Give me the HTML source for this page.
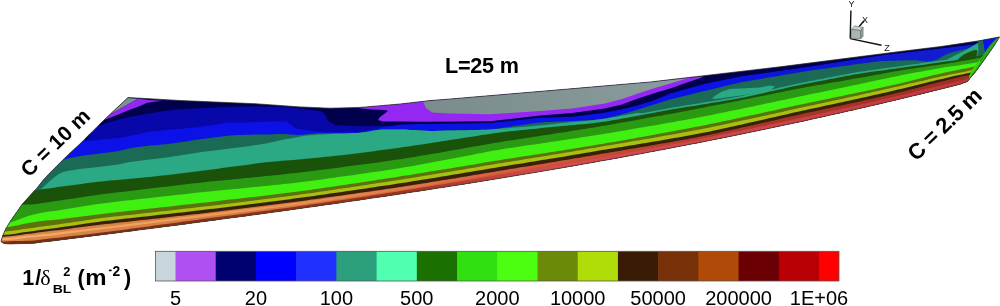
<!DOCTYPE html>
<html><head><meta charset="utf-8"><style>
html,body{margin:0;padding:0;background:#fff;width:1000px;height:306px;overflow:hidden}
svg{display:block;filter:blur(0.35px);font-family:"Liberation Sans",sans-serif}
.b{font-weight:bold}
</style></head><body>
<svg width="1000" height="306" viewBox="0 0 1000 306">
<defs>
<clipPath id="blade"><polygon points="128.0,97.5 180.0,100.5 255.0,103.7 300.0,106.9 330.0,108.2 360.0,107.4 400.0,104.0 430.0,100.6 450.0,99.0 550.0,90.6 650.0,82.0 780.0,66.8 900.0,51.5 941.0,46.5 979.0,40.8 999.6,36.9 994.0,46.0 985.0,58.7 976.0,71.3 971.0,77.0 967.5,81.5 960.0,84.2 954.0,85.8 948.0,87.3 942.0,88.8 936.0,90.2 930.0,91.7 924.0,93.2 918.0,94.7 912.0,96.1 906.0,97.6 900.0,99.0 894.0,100.4 888.0,101.8 882.0,103.3 876.0,104.7 870.0,106.1 864.0,107.4 858.0,108.8 852.0,110.2 846.0,111.5 840.0,112.9 834.0,114.2 828.0,115.6 822.0,116.9 816.0,118.2 810.0,119.6 804.0,120.9 798.0,122.2 792.0,123.5 786.0,124.7 780.0,126.0 774.0,127.3 768.0,128.6 762.0,129.8 756.0,131.1 750.0,132.3 744.0,133.5 738.0,134.8 732.0,136.0 726.0,137.2 720.0,138.4 714.0,139.6 708.0,140.8 702.0,142.0 696.0,143.2 690.0,144.3 684.0,145.5 678.0,146.6 672.0,147.8 666.0,148.9 660.0,150.1 654.0,151.2 648.0,152.3 642.0,153.5 636.0,154.6 630.0,155.7 624.0,156.8 618.0,157.9 612.0,159.0 606.0,160.1 600.0,161.1 594.0,162.2 588.0,163.3 582.0,164.3 576.0,165.4 570.0,166.4 564.0,167.5 558.0,168.5 552.0,169.5 546.0,170.6 540.0,171.6 534.0,172.6 528.0,173.6 522.0,174.6 516.0,175.6 510.0,176.6 504.0,177.6 498.0,178.6 492.0,179.6 486.0,180.5 480.0,181.5 474.0,182.5 468.0,183.4 462.0,184.4 456.0,185.3 450.0,186.3 444.0,187.2 438.0,188.1 432.0,189.1 426.0,190.0 420.0,190.9 414.0,191.8 408.0,192.7 402.0,193.7 396.0,194.6 390.0,195.5 384.0,196.4 378.0,197.2 372.0,198.1 366.0,199.0 360.0,199.9 354.0,200.8 348.0,201.6 342.0,202.5 336.0,203.4 330.0,204.2 324.0,205.1 318.0,205.9 312.0,206.8 306.0,207.6 300.0,208.5 294.0,209.3 288.0,210.2 282.0,211.0 276.0,211.8 270.0,212.6 264.0,213.5 258.0,214.3 252.0,215.1 246.0,215.9 240.0,216.7 234.0,217.5 228.0,218.3 222.0,219.1 216.0,219.9 210.0,220.7 204.0,221.5 198.0,222.3 192.0,223.1 186.0,223.9 180.0,224.7 174.0,225.5 168.0,226.2 162.0,227.0 156.0,227.8 150.0,228.6 144.0,229.3 138.0,230.1 132.0,230.9 126.0,231.6 120.0,232.4 114.0,233.2 108.0,233.9 102.0,234.7 96.0,235.4 90.0,236.2 84.0,236.9 78.0,237.7 72.0,238.4 66.0,239.2 60.0,239.9 54.0,240.7 48.0,241.4 42.0,242.1 36.0,242.9 33.0,243.2 20.0,243.6 10.0,243.9 5.0,243.6 2.5,242.8 1.0,241.2 3.0,235.0 5.7,229.0 10.6,220.8 16.3,212.7 22.0,204.5 29.4,196.3 36.8,188.2 43.3,180.0 48.8,174.0 58.6,164.2 68.4,154.4 79.2,144.6 89.0,134.8 98.8,125.0 113.0,111.5"/></clipPath>
<linearGradient id="gOr" x1="0" y1="0" x2="1000" y2="0" gradientUnits="userSpaceOnUse">
<stop offset="0" stop-color="#d88848"/><stop offset="0.35" stop-color="#d07840"/><stop offset="0.5" stop-color="#c85838"/><stop offset="0.75" stop-color="#a83828"/><stop offset="1" stop-color="#983020"/></linearGradient>
<linearGradient id="gHl" x1="0" y1="0" x2="700" y2="0" gradientUnits="userSpaceOnUse">
<stop offset="0" stop-color="#f8b070" stop-opacity="0.9"/><stop offset="0.4" stop-color="#f8a060" stop-opacity="0.7"/><stop offset="0.7" stop-color="#f07050" stop-opacity="0.4"/><stop offset="1" stop-color="#e05050" stop-opacity="0"/></linearGradient>
<linearGradient id="gGr" x1="430" y1="115" x2="690" y2="80" gradientUnits="userSpaceOnUse">
<stop offset="0" stop-color="#7a8c8c"/><stop offset="1" stop-color="#8a9c9c"/></linearGradient>
<linearGradient id="gBl" x1="0" y1="0" x2="1000" y2="0" gradientUnits="userSpaceOnUse">
<stop offset="0" stop-color="#0c12e8"/><stop offset="0.7" stop-color="#0c12e4"/><stop offset="0.85" stop-color="#1018d2"/><stop offset="1" stop-color="#1420cc"/></linearGradient>
<linearGradient id="gRd" x1="0" y1="0" x2="1000" y2="0" gradientUnits="userSpaceOnUse">
<stop offset="0" stop-color="#7a2a10"/><stop offset="0.4" stop-color="#a03020"/><stop offset="0.55" stop-color="#d84a50"/><stop offset="0.8" stop-color="#d04048"/><stop offset="1" stop-color="#c03040"/></linearGradient>
</defs>
<g clip-path="url(#blade)"><polygon points="128.0,97.5 180.0,100.5 255.0,103.7 300.0,106.9 330.0,108.2 360.0,107.4 400.0,104.0 430.0,100.6 450.0,99.0 550.0,90.6 650.0,82.0 780.0,66.8 900.0,51.5 941.0,46.5 979.0,40.8 999.6,36.9 994.0,46.0 985.0,58.7 976.0,71.3 971.0,77.0 967.5,81.5 960.0,84.2 954.0,85.8 948.0,87.3 942.0,88.8 936.0,90.2 930.0,91.7 924.0,93.2 918.0,94.7 912.0,96.1 906.0,97.6 900.0,99.0 894.0,100.4 888.0,101.8 882.0,103.3 876.0,104.7 870.0,106.1 864.0,107.4 858.0,108.8 852.0,110.2 846.0,111.5 840.0,112.9 834.0,114.2 828.0,115.6 822.0,116.9 816.0,118.2 810.0,119.6 804.0,120.9 798.0,122.2 792.0,123.5 786.0,124.7 780.0,126.0 774.0,127.3 768.0,128.6 762.0,129.8 756.0,131.1 750.0,132.3 744.0,133.5 738.0,134.8 732.0,136.0 726.0,137.2 720.0,138.4 714.0,139.6 708.0,140.8 702.0,142.0 696.0,143.2 690.0,144.3 684.0,145.5 678.0,146.6 672.0,147.8 666.0,148.9 660.0,150.1 654.0,151.2 648.0,152.3 642.0,153.5 636.0,154.6 630.0,155.7 624.0,156.8 618.0,157.9 612.0,159.0 606.0,160.1 600.0,161.1 594.0,162.2 588.0,163.3 582.0,164.3 576.0,165.4 570.0,166.4 564.0,167.5 558.0,168.5 552.0,169.5 546.0,170.6 540.0,171.6 534.0,172.6 528.0,173.6 522.0,174.6 516.0,175.6 510.0,176.6 504.0,177.6 498.0,178.6 492.0,179.6 486.0,180.5 480.0,181.5 474.0,182.5 468.0,183.4 462.0,184.4 456.0,185.3 450.0,186.3 444.0,187.2 438.0,188.1 432.0,189.1 426.0,190.0 420.0,190.9 414.0,191.8 408.0,192.7 402.0,193.7 396.0,194.6 390.0,195.5 384.0,196.4 378.0,197.2 372.0,198.1 366.0,199.0 360.0,199.9 354.0,200.8 348.0,201.6 342.0,202.5 336.0,203.4 330.0,204.2 324.0,205.1 318.0,205.9 312.0,206.8 306.0,207.6 300.0,208.5 294.0,209.3 288.0,210.2 282.0,211.0 276.0,211.8 270.0,212.6 264.0,213.5 258.0,214.3 252.0,215.1 246.0,215.9 240.0,216.7 234.0,217.5 228.0,218.3 222.0,219.1 216.0,219.9 210.0,220.7 204.0,221.5 198.0,222.3 192.0,223.1 186.0,223.9 180.0,224.7 174.0,225.5 168.0,226.2 162.0,227.0 156.0,227.8 150.0,228.6 144.0,229.3 138.0,230.1 132.0,230.9 126.0,231.6 120.0,232.4 114.0,233.2 108.0,233.9 102.0,234.7 96.0,235.4 90.0,236.2 84.0,236.9 78.0,237.7 72.0,238.4 66.0,239.2 60.0,239.9 54.0,240.7 48.0,241.4 42.0,242.1 36.0,242.9 33.0,243.2 20.0,243.6 10.0,243.9 5.0,243.6 2.5,242.8 1.0,241.2 3.0,235.0 5.7,229.0 10.6,220.8 16.3,212.7 22.0,204.5 29.4,196.3 36.8,188.2 43.3,180.0 48.8,174.0 58.6,164.2 68.4,154.4 79.2,144.6 89.0,134.8 98.8,125.0 113.0,111.5" fill="#0808aa" />
<polygon points="-10.0,214.6 -6.0,212.0 -2.0,208.9 2.0,205.9 6.0,202.9 10.0,199.9 14.0,196.8 18.0,193.8 22.0,190.8 26.0,187.7 30.0,184.7 34.0,181.7 38.0,178.7 42.0,175.6 46.0,172.6 50.0,169.6 54.0,166.5 58.0,163.5 62.0,159.9 66.0,155.8 70.0,151.7 74.0,147.5 78.0,143.4 82.0,141.2 86.0,140.8 90.0,140.5 94.0,140.2 98.0,139.9 102.0,139.5 106.0,139.2 110.0,138.8 114.0,138.5 118.0,138.2 122.0,137.6 126.0,136.7 130.0,135.9 134.0,135.0 138.0,134.2 142.0,133.3 146.0,132.5 150.0,131.7 154.0,131.2 158.0,130.9 162.0,130.5 166.0,130.1 170.0,129.8 174.0,129.4 178.0,129.0 182.0,128.7 186.0,128.3 190.0,127.9 194.0,127.6 198.0,127.2 202.0,126.7 206.0,126.1 210.0,125.5 214.0,124.9 218.0,124.2 222.0,123.6 226.0,123.0 230.0,122.5 234.0,122.4 238.0,122.4 242.0,122.4 246.0,122.4 250.0,122.4 254.0,122.2 258.0,122.0 262.0,121.9 266.0,121.7 270.0,121.5 274.0,121.5 278.0,121.4 282.0,121.4 286.0,121.4 290.0,124.2 294.0,127.6 298.0,128.9 302.0,129.7 306.0,130.2 310.0,130.8 314.0,131.2 318.0,131.7 322.0,132.0 326.0,132.2 330.0,132.2 334.0,132.3 338.0,132.4 342.0,132.4 346.0,132.3 350.0,132.2 354.0,132.2 358.0,132.0 362.0,131.6 366.0,130.8 370.0,130.0 374.0,129.2 378.0,128.4 382.0,127.6 386.0,126.9 390.0,126.2 394.0,125.5 398.0,124.8 402.0,124.4 406.0,124.3 410.0,124.2 414.0,124.1 418.0,124.0 422.0,123.9 426.0,123.8 430.0,123.7 434.0,123.7 438.0,123.6 442.0,123.6 446.0,123.5 450.0,123.5 454.0,123.4 458.0,123.4 462.0,123.3 466.0,123.3 470.0,123.2 474.0,123.2 478.0,123.1 482.0,123.1 486.0,123.0 490.0,122.9 494.0,122.6 498.0,122.2 502.0,121.8 506.0,121.3 510.0,120.9 514.0,120.5 518.0,120.1 522.0,119.7 526.0,119.3 530.0,118.8 534.0,118.4 538.0,118.0 542.0,117.7 546.0,117.6 550.0,117.5 554.0,117.3 558.0,117.2 562.0,117.0 566.0,116.9 570.0,116.8 574.0,116.4 578.0,116.0 582.0,115.5 586.0,115.0 590.0,114.5 594.0,114.0 598.0,113.5 602.0,113.0 606.0,112.4 610.0,111.6 614.0,110.9 618.0,110.1 622.0,109.3 626.0,108.3 630.0,107.2 634.0,106.2 638.0,105.2 642.0,104.0 646.0,102.8 650.0,101.5 654.0,100.2 658.0,98.6 662.0,96.9 666.0,95.2 670.0,93.6 674.0,92.4 678.0,91.3 682.0,90.1 686.0,89.0 690.0,87.9 694.0,86.8 698.0,85.7 702.0,84.5 706.0,83.5 710.0,82.7 714.0,81.8 718.0,81.0 722.0,80.2 726.0,79.4 730.0,78.6 734.0,77.7 738.0,76.9 742.0,76.2 746.0,75.6 750.0,75.1 754.0,74.5 758.0,73.9 762.0,73.4 766.0,72.8 770.0,72.2 774.0,71.6 778.0,71.1 782.0,70.5 786.0,69.9 790.0,69.4 794.0,68.8 798.0,68.2 802.0,67.6 806.0,67.1 810.0,66.5 814.0,65.9 818.0,65.2 822.0,64.6 826.0,64.0 830.0,63.4 834.0,62.7 838.0,62.1 842.0,61.5 846.0,60.8 850.0,60.2 854.0,59.6 858.0,59.0 862.0,58.3 866.0,57.7 870.0,57.1 874.0,56.4 878.0,55.8 882.0,55.3 886.0,54.8 890.0,54.3 894.0,53.9 898.0,53.4 902.0,52.9 906.0,52.5 910.0,52.0 914.0,51.5 918.0,51.1 922.0,50.6 926.0,50.1 930.0,49.7 934.0,49.2 938.0,48.7 942.0,48.3 946.0,47.8 950.0,47.3 954.0,46.8 958.0,46.3 962.0,45.8 966.0,45.3 970.0,44.9 974.0,44.4 978.0,43.9 982.0,43.4 986.0,42.9 990.0,42.4 994.0,41.9 998.0,41.5 1002.0,41.0 1006.0,40.5 1010.0,40.1 1010.0,400.0 -10.0,400.0" fill="url(#gBl)" />
<polygon points="85.0,0.0 1010.0,0.0 1010.0,40.0 940.0,48.5 880.0,55.5 810.0,66.5 740.0,76.5 705.0,83.7 670.0,93.5 654.0,100.3 638.0,105.2 622.0,109.3 605.0,112.6 572.0,116.7 540.0,117.8 490.0,123.0 430.0,123.7 400.0,124.4 390.0,126.0 360.0,126.3 335.0,125.0 328.0,121.0 326.0,116.0 322.0,111.5 300.0,108.5 283.0,106.8 257.0,106.6 231.0,106.8 205.0,108.0 175.0,109.5 152.0,113.0 134.0,116.0 121.0,119.0 108.0,122.5 95.0,127.0 85.0,142.0" fill="#00004c" />
<polygon points="356.0,107.6 400.0,104.0 430.0,100.6 450.0,99.0 550.0,90.6 650.0,82.0 698.0,76.8 704.0,76.3 700.0,78.3 687.0,82.5 671.0,88.2 654.0,93.3 638.0,98.6 622.0,104.4 605.0,108.5 572.0,112.9 540.0,115.5 490.0,121.2 430.0,121.8 395.0,121.5 383.0,121.5 378.0,120.0 380.0,117.0 388.0,111.0 385.0,110.0 372.0,109.6 362.0,108.6" fill="#9428f2" />
<polygon points="423.0,101.5 450.0,99.0 550.0,90.6 650.0,82.0 693.0,77.7 687.0,78.6 671.0,83.2 654.0,88.2 638.0,93.5 622.0,99.0 605.0,103.6 572.0,108.5 540.0,111.0 490.0,114.3 450.0,113.6 432.0,112.5 426.0,108.0" fill="url(#gGr)" />
<polygon points="127.7,97.9 138.0,98.7 125.0,106.0 112.0,113.5 106.8,116.6 100.0,122.0" fill="#7e9090" />
<polygon points="138.0,98.7 151.2,100.2 163.0,100.8 156.0,101.6 147.3,102.8 138.0,106.8 129.0,110.0 118.5,114.6 108.0,118.5 104.2,119.8 101.0,122.0 106.8,116.6 112.0,113.5 125.0,106.0" fill="#9428f2" />
<polygon points="-10.0,223.5 -6.0,221.0 -2.0,217.5 2.0,213.9 6.0,210.1 10.0,206.4 14.0,202.7 18.0,199.0 22.0,195.3 26.0,191.6 30.0,187.9 34.0,184.1 38.0,180.4 42.0,176.7 46.0,173.0 50.0,169.3 54.0,165.7 58.0,162.4 62.0,160.2 66.0,158.9 70.0,158.0 74.0,157.2 78.0,156.5 82.0,155.8 86.0,155.3 90.0,154.8 94.0,154.3 98.0,153.8 102.0,153.3 106.0,152.8 110.0,152.3 114.0,151.8 118.0,151.1 122.0,150.3 126.0,149.2 130.0,148.3 134.0,147.6 138.0,147.0 142.0,146.5 146.0,146.0 150.0,145.6 154.0,145.2 158.0,144.9 162.0,144.5 166.0,144.2 170.0,143.8 174.0,143.2 178.0,142.6 182.0,142.0 186.0,141.4 190.0,140.8 194.0,140.1 198.0,139.5 202.0,139.0 206.0,138.4 210.0,137.9 214.0,137.4 218.0,136.9 222.0,136.4 226.0,135.9 230.0,135.5 234.0,135.3 238.0,135.1 242.0,134.9 246.0,134.8 250.0,134.7 254.0,134.6 258.0,134.6 262.0,134.6 266.0,134.6 270.0,134.4 274.0,134.2 278.0,133.9 282.0,133.9 286.0,134.1 290.0,134.4 294.0,134.7 298.0,134.9 302.0,134.8 306.0,134.5 310.0,134.1 314.0,133.7 318.0,133.3 322.0,133.2 326.0,133.2 330.0,133.3 334.0,133.3 338.0,133.4 342.0,133.4 346.0,133.3 350.0,133.2 354.0,133.1 358.0,132.9 362.0,132.5 366.0,131.9 370.0,131.3 374.0,130.6 378.0,130.0 382.0,129.6 386.0,129.5 390.0,129.4 394.0,129.4 398.0,129.4 402.0,129.5 406.0,129.6 410.0,129.9 414.0,130.1 418.0,130.3 422.0,130.5 426.0,130.7 430.0,130.9 434.0,130.9 438.0,130.8 442.0,130.7 446.0,130.6 450.0,130.5 454.0,130.4 458.0,130.3 462.0,130.3 466.0,130.2 470.0,130.1 474.0,130.0 478.0,129.9 482.0,129.8 486.0,129.7 490.0,129.4 494.0,129.0 498.0,128.4 502.0,127.9 506.0,127.3 510.0,126.7 514.0,126.1 518.0,125.6 522.0,125.0 526.0,124.4 530.0,123.8 534.0,123.3 538.0,122.8 542.0,122.4 546.0,122.1 550.0,122.0 554.0,121.8 558.0,121.6 562.0,121.4 566.0,121.3 570.0,121.1 574.0,120.9 578.0,120.7 582.0,120.5 586.0,120.3 590.0,120.2 594.0,120.0 598.0,119.6 602.0,119.1 606.0,118.3 610.0,117.3 614.0,116.4 618.0,115.4 622.0,114.3 626.0,113.2 630.0,112.0 634.0,110.8 638.0,109.6 642.0,108.3 646.0,107.1 650.0,105.8 654.0,104.5 658.0,103.2 662.0,102.0 666.0,100.7 670.0,99.5 674.0,98.5 678.0,97.5 682.0,96.5 686.0,95.5 690.0,94.5 694.0,93.6 698.0,92.6 702.0,91.6 706.0,90.7 710.0,89.7 714.0,88.7 718.0,87.7 722.0,86.8 726.0,85.8 730.0,84.8 734.0,83.9 738.0,82.9 742.0,82.1 746.0,81.4 750.0,80.7 754.0,80.0 758.0,79.4 762.0,78.7 766.0,78.0 770.0,77.3 774.0,76.7 778.0,76.0 782.0,75.3 786.0,74.6 790.0,74.0 794.0,73.3 798.0,72.6 802.0,71.9 806.0,71.3 810.0,70.7 814.0,70.1 818.0,69.5 822.0,69.0 826.0,68.4 830.0,67.9 834.0,67.3 838.0,66.8 842.0,66.3 846.0,65.7 850.0,65.2 854.0,64.6 858.0,64.1 862.0,63.5 866.0,63.0 870.0,62.5 874.0,61.9 878.0,61.5 882.0,61.1 886.0,60.9 890.0,60.8 894.0,60.7 898.0,60.5 902.0,60.4 906.0,60.3 910.0,60.2 914.0,60.2 918.0,60.6 922.0,61.0 926.0,61.4 930.0,61.3 934.0,60.5 938.0,59.0 942.0,56.7 946.0,54.5 950.0,53.1 954.0,52.1 958.0,51.1 962.0,50.0 966.0,49.0 970.0,48.3 974.0,47.6 978.0,47.0 982.0,46.4 986.0,45.7 990.0,45.1 994.0,44.5 998.0,43.9 1002.0,43.2 1006.0,42.7 1010.0,42.2 1010.0,400.0 -10.0,400.0" fill="#1b6a54" />
<polygon points="-10.0,233.6 -6.0,231.1 -2.0,227.8 2.0,224.2 6.0,220.6 10.0,217.0 14.0,213.4 18.0,209.8 22.0,206.2 26.0,202.6 30.0,199.0 34.0,195.4 38.0,191.8 42.0,188.2 46.0,184.6 50.0,181.0 54.0,177.5 58.0,174.4 62.0,172.3 66.0,171.2 70.0,170.5 74.0,169.9 78.0,169.3 82.0,168.8 86.0,168.3 90.0,167.9 94.0,167.4 98.0,166.9 102.0,166.4 106.0,165.9 110.0,165.4 114.0,164.9 118.0,164.4 122.0,163.7 126.0,162.8 130.0,162.1 134.0,161.4 138.0,160.9 142.0,160.4 146.0,159.9 150.0,159.4 154.0,158.9 158.0,158.4 162.0,158.0 166.0,157.5 170.0,156.9 174.0,156.3 178.0,155.7 182.0,155.1 186.0,154.4 190.0,153.8 194.0,153.2 198.0,152.5 202.0,152.0 206.0,151.5 210.0,151.0 214.0,150.5 218.0,150.0 222.0,149.5 226.0,149.0 230.0,148.5 234.0,148.0 238.0,147.5 242.0,147.0 246.0,146.5 250.0,145.9 254.0,145.3 258.0,144.7 262.0,144.1 266.0,143.4 270.0,142.6 274.0,141.7 278.0,140.7 282.0,139.9 286.0,139.1 290.0,138.4 294.0,137.7 298.0,136.9 302.0,136.2 306.0,135.6 310.0,135.2 314.0,134.9 318.0,134.6 322.0,134.4 326.0,134.2 330.0,134.0 334.0,133.8 338.0,133.6 342.0,133.5 346.0,133.4 350.0,133.2 354.0,133.1 358.0,132.9 362.0,132.5 366.0,131.9 370.0,131.3 374.0,130.6 378.0,130.0 382.0,129.6 386.0,129.5 390.0,129.4 394.0,129.4 398.0,129.4 402.0,129.5 406.0,129.6 410.0,129.9 414.0,130.1 418.0,130.3 422.0,130.5 426.0,130.7 430.0,130.9 434.0,130.9 438.0,130.8 442.0,130.7 446.0,130.6 450.0,130.5 454.0,130.4 458.0,130.3 462.0,130.3 466.0,130.2 470.0,130.1 474.0,130.0 478.0,129.9 482.0,129.8 486.0,129.7 490.0,129.5 494.0,129.3 498.0,128.9 502.0,128.6 506.0,128.3 510.0,128.0 514.0,127.6 518.0,127.3 522.0,127.0 526.0,126.7 530.0,126.3 534.0,125.9 538.0,125.6 542.0,125.2 546.0,124.8 550.0,124.4 554.0,123.9 558.0,123.5 562.0,123.1 566.0,122.7 570.0,122.3 574.0,122.0 578.0,121.6 582.0,121.2 586.0,120.9 590.0,120.5 594.0,120.0 598.0,119.6 602.0,119.1 606.0,118.4 610.0,117.8 614.0,117.1 618.0,116.4 622.0,115.6 626.0,114.9 630.0,114.2 634.0,113.4 638.0,112.7 642.0,113.2 646.0,112.4 650.0,111.7 654.0,110.9 658.0,110.2 662.0,109.4 666.0,108.7 670.0,108.0 674.0,107.3 678.0,106.7 682.0,106.0 686.0,105.3 690.0,104.7 694.0,104.1 698.0,103.4 702.0,102.8 706.0,102.1 710.0,101.5 714.0,100.8 718.0,100.2 722.0,99.5 726.0,98.8 730.0,98.2 734.0,97.5 738.0,96.7 742.0,95.9 746.0,95.1 750.0,94.3 754.0,93.4 758.0,92.5 762.0,91.6 766.0,90.7 770.0,89.8 774.0,88.9 778.0,88.0 782.0,87.1 786.0,86.2 790.0,85.3 794.0,84.4 798.0,83.6 802.0,82.7 806.0,81.9 810.0,81.1 814.0,80.4 818.0,79.6 822.0,78.9 826.0,78.1 830.0,77.3 834.0,76.6 838.0,75.8 842.0,75.1 846.0,74.3 850.0,73.6 854.0,72.8 858.0,72.1 862.0,71.5 866.0,70.9 870.0,70.3 874.0,69.7 878.0,69.2 882.0,68.6 886.0,68.1 890.0,67.5 894.0,67.0 898.0,66.4 902.0,65.9 906.0,65.3 910.0,64.8 914.0,64.2 918.0,63.7 922.0,63.1 926.0,62.6 930.0,62.0 934.0,61.4 938.0,60.9 942.0,60.3 946.0,59.7 950.0,59.2 954.0,58.6 958.0,57.9 962.0,57.3 966.0,56.6 970.0,55.9 974.0,55.1 978.0,54.3 982.0,53.5 986.0,52.7 990.0,51.8 994.0,50.9 998.0,50.1 1002.0,49.2 1006.0,48.2 1010.0,47.3 1010.0,400.0 -10.0,400.0" fill="#2ba884" />
<polygon points="712.0,98.5 716.0,95.0 722.0,91.5 730.0,89.0 745.0,88.3 760.0,87.5 770.0,85.5 775.0,86.5 770.0,91.0 760.0,93.0 745.0,95.0 730.0,97.0 715.0,99.0" fill="#2ba884" />
<polygon points="948.0,59.0 956.0,55.0 964.0,51.0 971.0,47.0 976.0,44.0 983.0,40.0 984.9,53.3 978.6,64.1 975.0,66.5 965.0,66.5 955.0,65.0 948.0,63.0" fill="#2ba884" />
<polygon points="956.5,62.5 958.2,59.0 963.0,55.0 968.0,52.5 974.5,50.0 977.5,50.5 976.5,56.2 976.0,62.8 973.5,66.0 966.3,66.5 959.8,65.5" fill="#1a520a" />
<polygon points="977.7,40.8 983.0,39.3 984.9,53.3 978.6,64.1 976.0,61.4 978.6,49.8" fill="#1b6a54" />
<polygon points="983.0,39.3 999.6,36.9 984.9,53.3" fill="#0c12e8" />
<polygon points="-10.0,191.8 -6.0,191.7 -2.0,191.6 2.0,191.5 6.0,191.4 10.0,191.3 14.0,191.2 18.0,191.0 22.0,190.9 26.0,190.8 30.0,190.7 34.0,190.4 38.0,189.9 42.0,189.3 46.0,188.8 50.0,188.2 54.0,187.7 58.0,187.1 62.0,186.6 66.0,186.0 70.0,185.5 74.0,185.0 78.0,184.4 82.0,183.9 86.0,183.3 90.0,182.8 94.0,182.3 98.0,181.8 102.0,181.4 106.0,181.0 110.0,180.6 114.0,180.2 118.0,179.9 122.0,179.5 126.0,179.2 130.0,178.8 134.0,178.5 138.0,178.1 142.0,177.7 146.0,177.3 150.0,176.9 154.0,176.5 158.0,176.1 162.0,175.6 166.0,175.2 170.0,174.7 174.0,174.2 178.0,173.7 182.0,173.2 186.0,172.8 190.0,172.3 194.0,171.8 198.0,171.3 202.0,170.8 206.0,170.3 210.0,169.7 214.0,169.2 218.0,168.7 222.0,168.1 226.0,167.6 230.0,167.1 234.0,166.5 238.0,166.0 242.0,165.5 246.0,164.9 250.0,164.4 254.0,163.8 258.0,163.3 262.0,162.8 266.0,162.3 270.0,161.9 274.0,161.5 278.0,161.2 282.0,160.8 286.0,160.5 290.0,160.2 294.0,159.9 298.0,159.6 302.0,159.2 306.0,158.8 310.0,158.5 314.0,158.1 318.0,157.7 322.0,157.3 326.0,156.8 330.0,156.4 334.0,156.0 338.0,155.6 342.0,155.2 346.0,154.7 350.0,154.3 354.0,153.8 358.0,153.3 362.0,152.8 366.0,152.2 370.0,151.7 374.0,151.2 378.0,150.6 382.0,150.1 386.0,149.6 390.0,149.0 394.0,148.5 398.0,147.9 402.0,147.3 406.0,146.8 410.0,146.2 414.0,145.6 418.0,145.0 422.0,144.4 426.0,143.8 430.0,143.2 434.0,142.6 438.0,142.0 442.0,141.3 446.0,140.7 450.0,140.1 454.0,139.5 458.0,138.9 462.0,138.3 466.0,137.6 470.0,137.0 474.0,136.4 478.0,135.8 482.0,135.1 486.0,134.5 490.0,133.9 494.0,133.3 498.0,132.8 502.0,132.3 506.0,131.8 510.0,131.3 514.0,130.9 518.0,130.5 522.0,130.1 526.0,129.7 530.0,129.3 534.0,128.9 538.0,128.5 542.0,128.0 546.0,127.6 550.0,127.2 554.0,126.8 558.0,126.4 562.0,126.1 566.0,125.7 570.0,125.3 574.0,125.0 578.0,124.6 582.0,124.2 586.0,123.9 590.0,123.5 594.0,123.0 598.0,122.5 602.0,122.0 606.0,121.4 610.0,120.8 614.0,120.1 618.0,119.4 622.0,118.6 626.0,117.9 630.0,117.2 634.0,116.4 638.0,115.7 642.0,115.0 646.0,114.2 650.0,113.5 654.0,112.7 658.0,112.0 662.0,111.2 666.0,110.5 670.0,109.8 674.0,109.1 678.0,108.5 682.0,107.8 686.0,107.1 690.0,106.5 694.0,105.9 698.0,105.2 702.0,104.6 706.0,103.9 710.0,103.3 714.0,102.6 718.0,102.0 722.0,101.3 726.0,100.6 730.0,100.0 734.0,99.3 738.0,98.5 742.0,97.7 746.0,96.9 750.0,96.1 754.0,95.2 758.0,94.3 762.0,93.4 766.0,92.5 770.0,91.6 774.0,90.7 778.0,89.8 782.0,88.9 786.0,88.0 790.0,87.1 794.0,86.2 798.0,85.4 802.0,84.5 806.0,83.7 810.0,82.9 814.0,82.2 818.0,81.4 822.0,80.7 826.0,79.9 830.0,79.1 834.0,78.4 838.0,77.6 842.0,76.9 846.0,76.1 850.0,75.4 854.0,74.6 858.0,73.9 862.0,73.3 866.0,72.7 870.0,72.1 874.0,71.5 878.0,71.0 882.0,70.4 886.0,69.9 890.0,69.3 894.0,68.8 898.0,68.2 902.0,67.7 906.0,67.1 910.0,66.6 914.0,66.0 918.0,65.5 922.0,64.9 926.0,64.4 930.0,63.8 934.0,63.2 938.0,62.7 942.0,62.1 946.0,61.5 950.0,61.0 954.0,60.4 958.0,59.7 962.0,59.1 966.0,58.4 970.0,57.7 974.0,56.9 978.0,56.1 982.0,55.3 986.0,54.5 990.0,53.6 994.0,52.7 998.0,51.9 1002.0,51.0 1006.0,50.0 1010.0,49.1 1010.0,400.0 -10.0,400.0" fill="#1a520a" />
<polygon points="-10.0,205.8 -6.0,205.7 -2.0,205.6 2.0,205.5 6.0,205.3 10.0,205.2 14.0,205.0 18.0,204.9 22.0,204.8 26.0,204.6 30.0,204.5 34.0,204.2 38.0,203.7 42.0,203.1 46.0,202.5 50.0,201.9 54.0,201.3 58.0,200.8 62.0,200.2 66.0,199.6 70.0,199.0 74.0,198.4 78.0,197.8 82.0,197.2 86.0,196.6 90.0,196.0 94.0,195.4 98.0,194.8 102.0,194.3 106.0,193.8 110.0,193.3 114.0,192.8 118.0,192.3 122.0,191.9 126.0,191.4 130.0,190.9 134.0,190.5 138.0,190.0 142.0,189.5 146.0,189.0 150.0,188.6 154.0,188.1 158.0,187.6 162.0,187.1 166.0,186.7 170.0,186.2 174.0,185.7 178.0,185.2 182.0,184.7 186.0,184.3 190.0,183.8 194.0,183.3 198.0,182.9 202.0,182.4 206.0,182.0 210.0,181.6 214.0,181.2 218.0,180.8 222.0,180.4 226.0,180.0 230.0,179.7 234.0,179.3 238.0,178.9 242.0,178.5 246.0,178.1 250.0,177.7 254.0,177.3 258.0,176.9 262.0,176.5 266.0,176.1 270.0,175.7 274.0,175.3 278.0,174.9 282.0,174.4 286.0,174.0 290.0,173.6 294.0,173.2 298.0,172.7 302.0,172.3 306.0,171.8 310.0,171.3 314.0,170.8 318.0,170.3 322.0,169.8 326.0,169.2 330.0,168.7 334.0,168.2 338.0,167.7 342.0,167.2 346.0,166.6 350.0,166.1 354.0,165.6 358.0,165.0 362.0,164.5 366.0,164.0 370.0,163.4 374.0,162.9 378.0,162.4 382.0,161.8 386.0,161.3 390.0,160.7 394.0,160.1 398.0,159.5 402.0,158.9 406.0,158.3 410.0,157.6 414.0,157.0 418.0,156.3 422.0,155.6 426.0,155.0 430.0,154.3 434.0,153.6 438.0,152.9 442.0,152.2 446.0,151.5 450.0,150.8 454.0,150.1 458.0,149.4 462.0,148.7 466.0,148.0 470.0,147.3 474.0,146.6 478.0,145.9 482.0,145.2 486.0,144.5 490.0,143.8 494.0,143.1 498.0,142.4 502.0,141.8 506.0,141.1 510.0,140.5 514.0,139.9 518.0,139.3 522.0,138.7 526.0,138.1 530.0,137.5 534.0,136.8 538.0,136.2 542.0,135.6 546.0,135.0 550.0,134.4 554.0,133.8 558.0,133.1 562.0,132.5 566.0,131.9 570.0,131.2 574.0,130.6 578.0,130.0 582.0,129.3 586.0,128.7 590.0,128.0 594.0,127.4 598.0,126.7 602.0,126.1 606.0,125.4 610.0,124.7 614.0,124.0 618.0,123.3 622.0,122.6 626.0,121.9 630.0,121.2 634.0,120.5 638.0,119.7 642.0,119.0 646.0,118.3 650.0,117.6 654.0,116.8 658.0,116.1 662.0,115.4 666.0,114.6 670.0,113.9 674.0,113.2 678.0,112.4 682.0,111.7 686.0,110.9 690.0,110.2 694.0,109.4 698.0,108.6 702.0,107.9 706.0,107.1 710.0,106.3 714.0,105.6 718.0,104.8 722.0,104.0 726.0,103.2 730.0,102.4 734.0,101.6 738.0,100.9 742.0,100.1 746.0,99.3 750.0,98.4 754.0,97.6 758.0,96.8 762.0,96.0 766.0,95.2 770.0,94.4 774.0,93.6 778.0,92.7 782.0,91.9 786.0,91.1 790.0,90.3 794.0,89.5 798.0,88.7 802.0,87.9 806.0,87.2 810.0,86.5 814.0,85.8 818.0,85.1 822.0,84.4 826.0,83.7 830.0,83.0 834.0,82.3 838.0,81.7 842.0,81.0 846.0,80.2 850.0,79.5 854.0,78.8 858.0,78.1 862.0,77.4 866.0,76.7 870.0,76.0 874.0,75.2 878.0,74.5 882.0,73.8 886.0,73.0 890.0,72.3 894.0,71.6 898.0,70.9 902.0,70.3 906.0,69.6 910.0,69.0 914.0,68.4 918.0,67.8 922.0,67.3 926.0,66.7 930.0,66.1 934.0,65.5 938.0,64.9 942.0,64.3 946.0,63.7 950.0,63.1 954.0,62.5 958.0,61.8 962.0,61.1 966.0,60.4 970.0,59.7 974.0,58.9 978.0,58.1 982.0,57.3 986.0,56.5 990.0,55.6 994.0,54.7 998.0,53.9 1002.0,53.0 1006.0,52.0 1010.0,51.1 1010.0,400.0 -10.0,400.0" fill="#2a9a12" />
<polygon points="-10.0,224.8 -6.0,224.7 -2.0,224.5 2.0,224.1 6.0,223.4 10.0,222.4 14.0,221.2 18.0,219.7 22.0,218.2 26.0,216.7 30.0,215.5 34.0,214.5 38.0,213.5 42.0,212.7 46.0,212.0 50.0,211.5 54.0,210.9 58.0,210.4 62.0,209.8 66.0,209.1 70.0,208.5 74.0,207.8 78.0,207.2 82.0,206.5 86.0,205.8 90.0,205.2 94.0,204.5 98.0,203.9 102.0,203.4 106.0,202.9 110.0,202.4 114.0,201.9 118.0,201.5 122.0,201.0 126.0,200.6 130.0,200.2 134.0,199.7 138.0,199.3 142.0,198.8 146.0,198.4 150.0,198.0 154.0,197.5 158.0,197.1 162.0,196.6 166.0,196.2 170.0,195.7 174.0,195.3 178.0,194.8 182.0,194.4 186.0,194.0 190.0,193.5 194.0,193.1 198.0,192.6 202.0,192.2 206.0,191.8 210.0,191.4 214.0,191.0 218.0,190.6 222.0,190.2 226.0,189.8 230.0,189.5 234.0,189.1 238.0,188.7 242.0,188.3 246.0,187.9 250.0,187.5 254.0,187.1 258.0,186.7 262.0,186.3 266.0,185.9 270.0,185.5 274.0,185.1 278.0,184.7 282.0,184.2 286.0,183.8 290.0,183.4 294.0,183.0 298.0,182.5 302.0,182.0 306.0,181.5 310.0,181.0 314.0,180.5 318.0,179.9 322.0,179.4 326.0,178.8 330.0,178.3 334.0,177.7 338.0,177.1 342.0,176.6 346.0,176.0 350.0,175.5 354.0,174.9 358.0,174.3 362.0,173.8 366.0,173.2 370.0,172.6 374.0,172.0 378.0,171.5 382.0,170.9 386.0,170.3 390.0,169.7 394.0,169.1 398.0,168.4 402.0,167.8 406.0,167.1 410.0,166.4 414.0,165.7 418.0,164.9 422.0,164.2 426.0,163.5 430.0,162.7 434.0,162.0 438.0,161.2 442.0,160.5 446.0,159.7 450.0,159.0 454.0,158.2 458.0,157.5 462.0,156.7 466.0,155.9 470.0,155.2 474.0,154.4 478.0,153.6 482.0,152.9 486.0,152.1 490.0,151.3 494.0,150.6 498.0,149.9 502.0,149.2 506.0,148.6 510.0,148.0 514.0,147.4 518.0,146.8 522.0,146.2 526.0,145.6 530.0,145.1 534.0,144.5 538.0,143.9 542.0,143.3 546.0,142.7 550.0,142.1 554.0,141.5 558.0,140.9 562.0,140.3 566.0,139.7 570.0,139.1 574.0,138.5 578.0,137.9 582.0,137.3 586.0,136.7 590.0,136.1 594.0,135.4 598.0,134.8 602.0,134.2 606.0,133.5 610.0,132.9 614.0,132.2 618.0,131.5 622.0,130.9 626.0,130.2 630.0,129.5 634.0,128.8 638.0,128.1 642.0,127.5 646.0,126.8 650.0,126.1 654.0,125.4 658.0,124.7 662.0,124.0 666.0,123.3 670.0,122.6 674.0,121.9 678.0,121.1 682.0,120.4 686.0,119.7 690.0,119.0 694.0,118.2 698.0,117.5 702.0,116.7 706.0,115.9 710.0,115.2 714.0,114.4 718.0,113.6 722.0,112.8 726.0,111.9 730.0,111.1 734.0,110.3 738.0,109.5 742.0,108.7 746.0,107.8 750.0,107.0 754.0,106.2 758.0,105.3 762.0,104.5 766.0,103.6 770.0,102.8 774.0,101.9 778.0,101.1 782.0,100.2 786.0,99.4 790.0,98.5 794.0,97.7 798.0,96.8 802.0,96.0 806.0,95.2 810.0,94.3 814.0,93.5 818.0,92.7 822.0,91.9 826.0,91.1 830.0,90.3 834.0,89.4 838.0,88.6 842.0,87.8 846.0,86.9 850.0,86.1 854.0,85.2 858.0,84.4 862.0,83.6 866.0,82.7 870.0,81.8 874.0,81.0 878.0,80.1 882.0,79.3 886.0,78.4 890.0,77.5 894.0,76.7 898.0,75.9 902.0,75.1 906.0,74.3 910.0,73.6 914.0,72.8 918.0,72.1 922.0,71.4 926.0,70.6 930.0,69.9 934.0,69.2 938.0,68.5 942.0,67.8 946.0,67.1 950.0,66.5 954.0,65.9 958.0,65.4 962.0,64.8 966.0,64.2 970.0,63.6 974.0,62.9 978.0,62.1 982.0,61.3 986.0,60.5 990.0,59.6 994.0,58.7 998.0,57.9 1002.0,57.0 1006.0,56.0 1010.0,55.1 1010.0,400.0 -10.0,400.0" fill="#40f010" />
<polygon points="-10.0,228.4 -6.0,228.3 -2.0,228.1 2.0,227.8 6.0,227.4 10.0,226.8 14.0,226.1 18.0,225.2 22.0,224.3 26.0,223.5 30.0,222.8 34.0,222.2 38.0,221.6 42.0,221.0 46.0,220.6 50.0,220.2 54.0,219.9 58.0,219.5 62.0,219.0 66.0,218.5 70.0,218.0 74.0,217.5 78.0,217.0 82.0,216.4 86.0,215.9 90.0,215.4 94.0,214.9 98.0,214.4 102.0,213.9 106.0,213.4 110.0,213.0 114.0,212.5 118.0,212.1 122.0,211.7 126.0,211.2 130.0,210.8 134.0,210.4 138.0,209.9 142.0,209.5 146.0,209.1 150.0,208.6 154.0,208.2 158.0,207.7 162.0,207.3 166.0,206.9 170.0,206.4 174.0,206.0 178.0,205.5 182.0,205.1 186.0,204.6 190.0,204.2 194.0,203.7 198.0,203.3 202.0,202.8 206.0,202.4 210.0,201.9 214.0,201.5 218.0,201.0 222.0,200.6 226.0,200.1 230.0,199.6 234.0,199.2 238.0,198.7 242.0,198.3 246.0,197.8 250.0,197.3 254.0,196.9 258.0,196.4 262.0,195.9 266.0,195.4 270.0,195.0 274.0,194.5 278.0,194.0 282.0,193.5 286.0,193.1 290.0,192.6 294.0,192.1 298.0,191.6 302.0,191.0 306.0,190.5 310.0,189.9 314.0,189.3 318.0,188.8 322.0,188.2 326.0,187.6 330.0,187.0 334.0,186.4 338.0,185.8 342.0,185.2 346.0,184.7 350.0,184.1 354.0,183.5 358.0,182.9 362.0,182.3 366.0,181.7 370.0,181.0 374.0,180.4 378.0,179.8 382.0,179.2 386.0,178.6 390.0,178.0 394.0,177.4 398.0,176.8 402.0,176.1 406.0,175.5 410.0,174.9 414.0,174.2 418.0,173.6 422.0,172.9 426.0,172.3 430.0,171.6 434.0,171.0 438.0,170.3 442.0,169.7 446.0,169.0 450.0,168.4 454.0,167.7 458.0,167.0 462.0,166.4 466.0,165.7 470.0,165.0 474.0,164.4 478.0,163.7 482.0,163.0 486.0,162.3 490.0,161.7 494.0,161.0 498.0,160.4 502.0,159.7 506.0,159.1 510.0,158.5 514.0,157.9 518.0,157.3 522.0,156.6 526.0,156.0 530.0,155.4 534.0,154.8 538.0,154.2 542.0,153.6 546.0,153.0 550.0,152.3 554.0,151.7 558.0,151.1 562.0,150.4 566.0,149.8 570.0,149.2 574.0,148.5 578.0,147.9 582.0,147.3 586.0,146.6 590.0,146.0 594.0,145.3 598.0,144.6 602.0,144.0 606.0,143.3 610.0,142.6 614.0,141.9 618.0,141.2 622.0,140.5 626.0,139.8 630.0,139.1 634.0,138.4 638.0,137.6 642.0,136.9 646.0,136.2 650.0,135.5 654.0,134.7 658.0,134.0 662.0,133.3 666.0,132.5 670.0,131.8 674.0,131.1 678.0,130.3 682.0,129.6 686.0,128.8 690.0,128.1 694.0,127.3 698.0,126.5 702.0,125.7 706.0,124.9 710.0,124.1 714.0,123.3 718.0,122.4 722.0,121.6 726.0,120.7 730.0,119.9 734.0,119.0 738.0,118.2 742.0,117.3 746.0,116.5 750.0,115.6 754.0,114.7 758.0,113.9 762.0,113.0 766.0,112.1 770.0,111.2 774.0,110.4 778.0,109.5 782.0,108.6 786.0,107.7 790.0,106.8 794.0,105.9 798.0,105.1 802.0,104.2 806.0,103.4 810.0,102.6 814.0,101.7 818.0,100.9 822.0,100.1 826.0,99.3 830.0,98.5 834.0,97.6 838.0,96.8 842.0,96.0 846.0,95.1 850.0,94.3 854.0,93.4 858.0,92.6 862.0,91.8 866.0,90.9 870.0,90.0 874.0,89.2 878.0,88.3 882.0,87.4 886.0,86.6 890.0,85.7 894.0,84.8 898.0,83.9 902.0,82.9 906.0,82.0 910.0,81.0 914.0,80.1 918.0,79.1 922.0,78.1 926.0,77.1 930.0,76.1 934.0,75.1 938.0,74.2 942.0,73.2 946.0,72.3 950.0,71.5 954.0,70.7 958.0,69.9 962.0,69.1 966.0,68.4 970.0,67.6 974.0,66.7 978.0,65.9 982.0,64.9 986.0,64.0 990.0,63.1 994.0,62.1 998.0,61.2 1002.0,60.2 1006.0,59.2 1010.0,58.2 1010.0,400.0 -10.0,400.0" fill="#5c720c" />
<polygon points="-10.0,232.3 -6.0,232.2 -2.0,232.0 2.0,231.8 6.0,231.5 10.0,231.1 14.0,230.6 18.0,230.0 22.0,229.3 26.0,228.7 30.0,228.2 34.0,227.7 38.0,227.0 42.0,226.4 46.0,225.9 50.0,225.4 54.0,224.9 58.0,224.4 62.0,223.8 66.0,223.2 70.0,222.7 74.0,222.1 78.0,221.5 82.0,220.9 86.0,220.3 90.0,219.7 94.0,219.1 98.0,218.6 102.0,218.0 106.0,217.5 110.0,217.1 114.0,216.6 118.0,216.2 122.0,215.7 126.0,215.3 130.0,214.9 134.0,214.4 138.0,214.0 142.0,213.5 146.0,213.1 150.0,212.7 154.0,212.2 158.0,211.8 162.0,211.3 166.0,210.9 170.0,210.4 174.0,210.0 178.0,209.5 182.0,209.1 186.0,208.6 190.0,208.2 194.0,207.7 198.0,207.3 202.0,206.8 206.0,206.3 210.0,205.9 214.0,205.4 218.0,204.9 222.0,204.4 226.0,203.9 230.0,203.4 234.0,202.9 238.0,202.5 242.0,202.0 246.0,201.5 250.0,201.0 254.0,200.5 258.0,200.0 262.0,199.5 266.0,199.0 270.0,198.5 274.0,198.0 278.0,197.5 282.0,197.0 286.0,196.5 290.0,195.9 294.0,195.4 298.0,194.9 302.0,194.3 306.0,193.8 310.0,193.2 314.0,192.7 318.0,192.1 322.0,191.5 326.0,190.9 330.0,190.3 334.0,189.7 338.0,189.1 342.0,188.5 346.0,188.0 350.0,187.4 354.0,186.8 358.0,186.2 362.0,185.6 366.0,185.0 370.0,184.3 374.0,183.7 378.0,183.1 382.0,182.5 386.0,181.9 390.0,181.3 394.0,180.7 398.0,180.1 402.0,179.4 406.0,178.8 410.0,178.2 414.0,177.5 418.0,176.9 422.0,176.2 426.0,175.6 430.0,174.9 434.0,174.3 438.0,173.6 442.0,173.0 446.0,172.3 450.0,171.7 454.0,171.0 458.0,170.3 462.0,169.7 466.0,169.0 470.0,168.3 474.0,167.7 478.0,167.0 482.0,166.3 486.0,165.6 490.0,165.0 494.0,164.3 498.0,163.6 502.0,163.0 506.0,162.3 510.0,161.7 514.0,161.0 518.0,160.4 522.0,159.8 526.0,159.1 530.0,158.5 534.0,157.8 538.0,157.2 542.0,156.5 546.0,155.9 550.0,155.2 554.0,154.6 558.0,153.9 562.0,153.3 566.0,152.6 570.0,151.9 574.0,151.2 578.0,150.6 582.0,149.9 586.0,149.2 590.0,148.5 594.0,147.9 598.0,147.2 602.0,146.5 606.0,145.8 610.0,145.2 614.0,144.5 618.0,143.8 622.0,143.2 626.0,142.5 630.0,141.8 634.0,141.1 638.0,140.4 642.0,139.8 646.0,139.1 650.0,138.4 654.0,137.7 658.0,137.0 662.0,136.3 666.0,135.6 670.0,134.9 674.0,134.2 678.0,133.4 682.0,132.7 686.0,132.0 690.0,131.3 694.0,130.5 698.0,129.8 702.0,129.0 706.0,128.2 710.0,127.4 714.0,126.5 718.0,125.7 722.0,124.9 726.0,124.0 730.0,123.2 734.0,122.3 738.0,121.5 742.0,120.6 746.0,119.8 750.0,118.9 754.0,118.0 758.0,117.2 762.0,116.3 766.0,115.4 770.0,114.5 774.0,113.7 778.0,112.8 782.0,111.9 786.0,111.0 790.0,110.1 794.0,109.2 798.0,108.3 802.0,107.5 806.0,106.6 810.0,105.8 814.0,104.9 818.0,104.0 822.0,103.2 826.0,102.3 830.0,101.5 834.0,100.6 838.0,99.8 842.0,98.9 846.0,98.0 850.0,97.1 854.0,96.3 858.0,95.4 862.0,94.5 866.0,93.6 870.0,92.7 874.0,91.8 878.0,90.9 882.0,90.0 886.0,89.1 890.0,88.2 894.0,87.3 898.0,86.4 902.0,85.5 906.0,84.6 910.0,83.6 914.0,82.7 918.0,81.8 922.0,80.9 926.0,80.0 930.0,79.1 934.0,78.1 938.0,77.2 942.0,76.3 946.0,75.5 950.0,74.6 954.0,73.8 958.0,73.0 962.0,72.2 966.0,71.4 970.0,70.6 974.0,69.8 978.0,68.9 982.0,67.9 986.0,67.0 990.0,66.1 994.0,65.1 998.0,64.2 1002.0,63.2 1006.0,62.2 1010.0,61.2 1010.0,400.0 -10.0,400.0" fill="#a8c010" />
<polygon points="-10.0,235.6 -6.0,235.5 -2.0,235.3 2.0,235.1 6.0,234.8 10.0,234.4 14.0,233.9 18.0,233.2 22.0,232.6 26.0,232.0 30.0,231.4 34.0,231.0 38.0,230.3 42.0,229.7 46.0,229.2 50.0,228.7 54.0,228.2 58.0,227.7 62.0,227.1 66.0,226.5 70.0,226.0 74.0,225.4 78.0,224.8 82.0,224.2 86.0,223.6 90.0,223.0 94.0,222.4 98.0,221.9 102.0,221.3 106.0,220.8 110.0,220.4 114.0,219.9 118.0,219.5 122.0,219.0 126.0,218.6 130.0,218.2 134.0,217.7 138.0,217.3 142.0,216.8 146.0,216.4 150.0,216.0 154.0,215.5 158.0,215.1 162.0,214.6 166.0,214.2 170.0,213.7 174.0,213.3 178.0,212.8 182.0,212.4 186.0,211.9 190.0,211.5 194.0,211.0 198.0,210.6 202.0,210.1 206.0,209.6 210.0,209.1 214.0,208.7 218.0,208.2 222.0,207.7 226.0,207.2 230.0,206.7 234.0,206.2 238.0,205.7 242.0,205.2 246.0,204.7 250.0,204.2 254.0,203.7 258.0,203.2 262.0,202.7 266.0,202.2 270.0,201.7 274.0,201.2 278.0,200.7 282.0,200.2 286.0,199.7 290.0,199.2 294.0,198.6 298.0,198.1 302.0,197.6 306.0,197.0 310.0,196.5 314.0,195.9 318.0,195.3 322.0,194.8 326.0,194.2 330.0,193.6 334.0,193.1 338.0,192.5 342.0,191.9 346.0,191.3 350.0,190.8 354.0,190.2 358.0,189.6 362.0,189.0 366.0,188.4 370.0,187.8 374.0,187.2 378.0,186.6 382.0,186.1 386.0,185.5 390.0,184.9 394.0,184.2 398.0,183.6 402.0,183.0 406.0,182.4 410.0,181.8 414.0,181.1 418.0,180.5 422.0,179.8 426.0,179.2 430.0,178.5 434.0,177.9 438.0,177.2 442.0,176.6 446.0,175.9 450.0,175.3 454.0,174.6 458.0,173.9 462.0,173.3 466.0,172.6 470.0,171.9 474.0,171.3 478.0,170.6 482.0,169.9 486.0,169.2 490.0,168.6 494.0,167.9 498.0,167.2 502.0,166.6 506.0,165.9 510.0,165.3 514.0,164.6 518.0,164.0 522.0,163.4 526.0,162.7 530.0,162.1 534.0,161.4 538.0,160.8 542.0,160.1 546.0,159.5 550.0,158.8 554.0,158.2 558.0,157.5 562.0,156.9 566.0,156.2 570.0,155.5 574.0,154.8 578.0,154.2 582.0,153.5 586.0,152.8 590.0,152.2 594.0,151.5 598.0,150.8 602.0,150.1 606.0,149.5 610.0,148.8 614.0,148.2 618.0,147.5 622.0,146.9 626.0,146.2 630.0,145.6 634.0,144.9 638.0,144.2 642.0,143.6 646.0,142.9 650.0,142.2 654.0,141.5 658.0,140.9 662.0,140.2 666.0,139.5 670.0,138.8 674.0,138.1 678.0,137.4 682.0,136.7 686.0,136.0 690.0,135.3 694.0,134.6 698.0,133.8 702.0,133.0 706.0,132.2 710.0,131.4 714.0,130.5 718.0,129.7 722.0,128.8 726.0,127.9 730.0,127.0 734.0,126.2 738.0,125.3 742.0,124.4 746.0,123.5 750.0,122.6 754.0,121.7 758.0,120.8 762.0,119.9 766.0,119.0 770.0,118.1 774.0,117.2 778.0,116.2 782.0,115.3 786.0,114.4 790.0,113.5 794.0,112.6 798.0,111.7 802.0,110.8 806.0,109.9 810.0,109.1 814.0,108.2 818.0,107.4 822.0,106.5 826.0,105.6 830.0,104.8 834.0,103.9 838.0,103.1 842.0,102.2 846.0,101.3 850.0,100.4 854.0,99.6 858.0,98.7 862.0,97.8 866.0,96.9 870.0,96.0 874.0,95.1 878.0,94.2 882.0,93.3 886.0,92.4 890.0,91.5 894.0,90.6 898.0,89.6 902.0,88.7 906.0,87.7 910.0,86.7 914.0,85.8 918.0,84.8 922.0,83.8 926.0,82.8 930.0,81.8 934.0,80.8 938.0,79.8 942.0,78.9 946.0,77.9 950.0,77.0 954.0,76.1 958.0,75.3 962.0,74.4 966.0,73.6 970.0,72.7 974.0,71.8 978.0,70.9 982.0,70.0 986.0,69.0 990.0,68.1 994.0,67.1 998.0,66.2 1002.0,65.2 1006.0,64.2 1010.0,63.2 1010.0,400.0 -10.0,400.0" fill="#3a2008" />
<polygon points="-10.0,237.3 -6.0,237.2 -2.0,237.1 2.0,236.9 6.0,236.6 10.0,236.2 14.0,235.8 18.0,235.2 22.0,234.7 26.0,234.1 30.0,233.7 34.0,233.3 38.0,232.6 42.0,232.1 46.0,231.6 50.0,231.1 54.0,230.6 58.0,230.2 62.0,229.7 66.0,229.2 70.0,228.7 74.0,228.1 78.0,227.6 82.0,227.1 86.0,226.6 90.0,226.1 94.0,225.6 98.0,225.1 102.0,224.6 106.0,224.1 110.0,223.7 114.0,223.2 118.0,222.8 122.0,222.3 126.0,221.9 130.0,221.5 134.0,221.0 138.0,220.6 142.0,220.1 146.0,219.7 150.0,219.3 154.0,218.8 158.0,218.4 162.0,217.9 166.0,217.5 170.0,217.0 174.0,216.6 178.0,216.1 182.0,215.7 186.0,215.2 190.0,214.8 194.0,214.3 198.0,213.9 202.0,213.4 206.0,212.9 210.0,212.4 214.0,212.0 218.0,211.5 222.0,211.0 226.0,210.5 230.0,210.0 234.0,209.5 238.0,209.0 242.0,208.5 246.0,208.0 250.0,207.5 254.0,207.0 258.0,206.5 262.0,206.0 266.0,205.5 270.0,205.0 274.0,204.5 278.0,204.0 282.0,203.5 286.0,203.0 290.0,202.5 294.0,201.9 298.0,201.4 302.0,200.9 306.0,200.4 310.0,199.8 314.0,199.3 318.0,198.7 322.0,198.2 326.0,197.6 330.0,197.1 334.0,196.5 338.0,195.9 342.0,195.4 346.0,194.8 350.0,194.3 354.0,193.7 358.0,193.1 362.0,192.6 366.0,192.0 370.0,191.4 374.0,190.8 378.0,190.3 382.0,189.7 386.0,189.1 390.0,188.5 394.0,187.9 398.0,187.3 402.0,186.7 406.0,186.1 410.0,185.5 414.0,184.8 418.0,184.2 422.0,183.6 426.0,182.9 430.0,182.3 434.0,181.6 438.0,181.0 442.0,180.3 446.0,179.7 450.0,179.0 454.0,178.4 458.0,177.7 462.0,177.0 466.0,176.4 470.0,175.7 474.0,175.0 478.0,174.4 482.0,173.7 486.0,173.0 490.0,172.4 494.0,171.7 498.0,171.0 502.0,170.4 506.0,169.7 510.0,169.1 514.0,168.4 518.0,167.8 522.0,167.1 526.0,166.5 530.0,165.9 534.0,165.2 538.0,164.6 542.0,163.9 546.0,163.2 550.0,162.6 554.0,161.9 558.0,161.3 562.0,160.6 566.0,159.9 570.0,159.2 574.0,158.6 578.0,157.9 582.0,157.2 586.0,156.5 590.0,155.9 594.0,155.2 598.0,154.5 602.0,153.8 606.0,153.2 610.0,152.5 614.0,151.8 618.0,151.2 622.0,150.5 626.0,149.8 630.0,149.1 634.0,148.5 638.0,147.8 642.0,147.1 646.0,146.4 650.0,145.7 654.0,145.0 658.0,144.3 662.0,143.6 666.0,142.9 670.0,142.2 674.0,141.5 678.0,140.8 682.0,140.1 686.0,139.4 690.0,138.6 694.0,137.9 698.0,137.1 702.0,136.3 706.0,135.5 710.0,134.7 714.0,133.8 718.0,133.0 722.0,132.1 726.0,131.2 730.0,130.3 734.0,129.4 738.0,128.5 742.0,127.6 746.0,126.7 750.0,125.8 754.0,124.9 758.0,124.0 762.0,123.1 766.0,122.2 770.0,121.3 774.0,120.4 778.0,119.5 782.0,118.5 786.0,117.6 790.0,116.7 794.0,115.8 798.0,114.9 802.0,114.0 806.0,113.1 810.0,112.3 814.0,111.4 818.0,110.6 822.0,109.7 826.0,108.8 830.0,108.0 834.0,107.1 838.0,106.3 842.0,105.4 846.0,104.5 850.0,103.6 854.0,102.8 858.0,101.9 862.0,101.0 866.0,100.1 870.0,99.2 874.0,98.3 878.0,97.4 882.0,96.5 886.0,95.6 890.0,94.7 894.0,93.7 898.0,92.8 902.0,91.8 906.0,90.8 910.0,89.8 914.0,88.8 918.0,87.7 922.0,86.7 926.0,85.6 930.0,84.6 934.0,83.5 938.0,82.5 942.0,81.5 946.0,80.4 950.0,79.5 954.0,78.5 958.0,77.5 962.0,76.6 966.0,75.7 970.0,74.8 974.0,73.8 978.0,72.9 982.0,72.0 986.0,71.0 990.0,70.1 994.0,69.1 998.0,68.2 1002.0,67.2 1006.0,66.2 1010.0,65.2 1010.0,400.0 -10.0,400.0" fill="url(#gOr)" />
<polygon points="-10.0,241.7 -6.0,241.6 -2.0,241.6 2.0,241.5 6.0,241.4 10.0,241.3 14.0,241.1 18.0,241.0 22.0,240.9 26.0,240.8 30.0,240.7 34.0,240.5 38.0,240.0 42.0,239.5 46.0,239.0 50.0,238.6 54.0,238.1 58.0,237.7 62.0,237.2 66.0,236.8 70.0,236.3 74.0,235.8 78.0,235.4 82.0,234.9 86.0,234.4 90.0,234.0 94.0,233.5 98.0,233.0 102.0,232.5 106.0,232.0 110.0,231.5 114.0,231.0 118.0,230.4 122.0,229.9 126.0,229.4 130.0,228.8 134.0,228.3 138.0,227.8 142.0,227.2 146.0,226.7 150.0,226.2 154.0,225.6 158.0,225.1 162.0,224.5 166.0,224.0 170.0,223.5 174.0,222.9 178.0,222.4 182.0,221.8 186.0,221.3 190.0,220.7 194.0,220.2 198.0,219.7 202.0,219.1 206.0,218.6 210.0,218.1 214.0,217.6 218.0,217.0 222.0,216.5 226.0,216.0 230.0,215.5 234.0,214.9 238.0,214.4 242.0,213.9 246.0,213.4 250.0,212.8 254.0,212.3 258.0,211.8 262.0,211.2 266.0,210.7 270.0,210.2 274.0,209.6 278.0,209.1 282.0,208.5 286.0,208.0 290.0,207.4 294.0,206.9 298.0,206.3 302.0,205.8 306.0,205.2 310.0,204.6 314.0,204.1 318.0,203.5 322.0,202.9 326.0,202.3 330.0,201.7 334.0,201.1 338.0,200.5 342.0,199.9 346.0,199.4 350.0,198.8 354.0,198.2 358.0,197.6 362.0,197.0 366.0,196.4 370.0,195.7 374.0,195.1 378.0,194.5 382.0,193.9 386.0,193.3 390.0,192.7 394.0,192.1 398.0,191.5 402.0,190.8 406.0,190.2 410.0,189.6 414.0,188.9 418.0,188.3 422.0,187.6 426.0,187.0 430.0,186.3 434.0,185.7 438.0,185.0 442.0,184.4 446.0,183.7 450.0,183.1 454.0,182.4 458.0,181.7 462.0,181.1 466.0,180.4 470.0,179.7 474.0,179.1 478.0,178.4 482.0,177.7 486.0,177.0 490.0,176.4 494.0,175.7 498.0,175.0 502.0,174.3 506.0,173.7 510.0,173.0 514.0,172.3 518.0,171.7 522.0,171.0 526.0,170.3 530.0,169.6 534.0,169.0 538.0,168.3 542.0,167.6 546.0,166.9 550.0,166.2 554.0,165.5 558.0,164.8 562.0,164.2 566.0,163.5 570.0,162.8 574.0,162.1 578.0,161.4 582.0,160.6 586.0,159.9 590.0,159.2 594.0,158.5 598.0,157.8 602.0,157.1 606.0,156.4 610.0,155.7 614.0,155.0 618.0,154.3 622.0,153.5 626.0,152.8 630.0,152.1 634.0,151.4 638.0,150.7 642.0,149.9 646.0,149.2 650.0,148.5 654.0,147.7 658.0,147.0 662.0,146.3 666.0,145.5 670.0,144.8 674.0,144.0 678.0,143.3 682.0,142.5 686.0,141.7 690.0,141.0 694.0,140.2 698.0,139.4 702.0,138.6 706.0,137.8 710.0,137.0 714.0,136.2 718.0,135.4 722.0,134.6 726.0,133.8 730.0,133.0 734.0,132.1 738.0,131.3 742.0,130.5 746.0,129.6 750.0,128.8 754.0,128.0 758.0,127.1 762.0,126.3 766.0,125.4 770.0,124.6 774.0,123.7 778.0,122.8 782.0,122.0 786.0,121.1 790.0,120.2 794.0,119.4 798.0,118.5 802.0,117.6 806.0,116.7 810.0,115.9 814.0,115.0 818.0,114.1 822.0,113.2 826.0,112.4 830.0,111.5 834.0,110.6 838.0,109.7 842.0,108.8 846.0,107.9 850.0,107.0 854.0,106.1 858.0,105.2 862.0,104.3 866.0,103.3 870.0,102.4 874.0,101.5 878.0,100.6 882.0,99.6 886.0,98.7 890.0,97.8 894.0,96.8 898.0,95.9 902.0,94.9 906.0,94.0 910.0,93.0 914.0,92.0 918.0,91.1 922.0,90.1 926.0,89.1 930.0,88.1 934.0,87.1 938.0,86.2 942.0,85.2 946.0,84.2 950.0,83.2 954.0,82.2 958.0,81.2 962.0,80.2 966.0,79.2 970.0,78.2 974.0,77.2 978.0,76.1 982.0,75.1 986.0,74.1 990.0,73.0 994.0,72.0 998.0,70.9 1002.0,69.9 1006.0,68.8 1010.0,67.8 1010.0,400.0 -10.0,400.0" fill="url(#gRd)" />
<polyline points="0.0,239.0 4.0,239.0 8.0,238.9 12.0,238.6 16.0,238.1 20.0,237.6 24.0,237.1 28.0,236.6 32.0,236.4 36.0,236.1 40.0,235.6 44.0,235.2 48.0,234.8 52.0,234.4 56.0,233.9 60.0,233.4 64.0,232.9 68.0,232.4 72.0,231.9 76.0,231.4 80.0,231.0 84.0,230.5 88.0,230.0 92.0,229.5 96.0,229.0 100.0,228.5 104.0,228.0 108.0,227.5 112.0,227.0 116.0,226.5 120.0,226.1 124.0,225.6 128.0,225.1 132.0,224.6 136.0,224.1 140.0,223.6 144.0,223.1 148.0,222.7 152.0,222.2 156.0,221.7 160.0,221.2 164.0,220.7 168.0,220.2 172.0,219.7 176.0,219.2 180.0,218.7 184.0,218.2 188.0,217.7 192.0,217.2 196.0,216.7 200.0,216.2 204.0,215.7 208.0,215.2 212.0,214.7 216.0,214.2 220.0,213.7 224.0,213.2 228.0,212.7 232.0,212.2 236.0,211.7 240.0,211.2 244.0,210.6 248.0,210.1 252.0,209.6 256.0,209.1 260.0,208.6 264.0,208.1 268.0,207.5 272.0,207.0 276.0,206.5 280.0,206.0 284.0,205.5 288.0,204.9 292.0,204.4 296.0,203.9 300.0,203.3 304.0,202.8 308.0,202.2 312.0,201.6 316.0,201.1 320.0,200.5 324.0,199.9 328.0,199.4 332.0,198.8 336.0,198.2 340.0,197.7 344.0,197.1 348.0,196.5 352.0,195.9 356.0,195.3 360.0,194.7 364.0,194.2 368.0,193.6 372.0,193.0 376.0,192.4 380.0,191.8 384.0,191.2 388.0,190.6 392.0,190.0 396.0,189.4 400.0,188.8 404.0,188.2 408.0,187.5 412.0,186.9 416.0,186.3 420.0,185.6 424.0,185.0 428.0,184.3 432.0,183.7 436.0,183.0 440.0,182.4 444.0,181.7 448.0,181.1 452.0,180.4 456.0,179.8 460.0,179.1 464.0,178.4 468.0,177.8 472.0,177.1 476.0,176.4 480.0,175.7 484.0,175.1 488.0,174.4 492.0,173.7 496.0,173.0 500.0,172.4 504.0,171.7 508.0,171.1 512.0,170.4 516.0,169.8 520.0,169.1 524.0,168.4 528.0,167.8 532.0,167.1 536.0,166.5 540.0,165.8 544.0,165.1 548.0,164.4 552.0,163.8 556.0,163.1 560.0,162.4 564.0,161.7 568.0,161.0 572.0,160.4 576.0,159.7 580.0,159.0 584.0,158.3 588.0,157.6 592.0,156.9 596.0,156.2 600.0,155.5 604.0,154.8 608.0,154.1 612.0,153.4 616.0,152.7 620.0,152.1 624.0,151.4 628.0,150.7 632.0,150.0 636.0,149.3 640.0,148.6 644.0,147.9 648.0,147.2 652.0,146.4 656.0,145.7 660.0,145.0 664.0,144.3 668.0,143.6 672.0,142.8 676.0,142.1 680.0,141.4 684.0,140.6 688.0,139.9 692.0,139.2 696.0,138.4" fill="none" stroke="url(#gHl)" stroke-width="2.2"/>
<polygon points="967.5,81.5 971.0,77.0 976.0,71.3 985.0,58.7 994.0,46.0 999.6,36.9 997.0,38.0 990.0,45.0 983.0,55.0 977.0,63.5 972.5,69.5 969.5,75.5 967.8,82.0" fill="#2aa814" />
<polygon points="969.5,75.5 972.5,69.5 977.0,63.5 979.5,60.0 980.5,62.0 976.0,68.5 972.0,74.0 969.0,79.0" fill="#3ad812" /></g><polygon points="128.0,97.5 180.0,100.5 255.0,103.7 300.0,106.9 330.0,108.2 360.0,107.4 400.0,104.0 430.0,100.6 450.0,99.0 550.0,90.6 650.0,82.0 780.0,66.8 900.0,51.5 941.0,46.5 979.0,40.8 999.6,36.9 994.0,46.0 985.0,58.7 976.0,71.3 971.0,77.0 967.5,81.5 960.0,84.2 954.0,85.8 948.0,87.3 942.0,88.8 936.0,90.2 930.0,91.7 924.0,93.2 918.0,94.7 912.0,96.1 906.0,97.6 900.0,99.0 894.0,100.4 888.0,101.8 882.0,103.3 876.0,104.7 870.0,106.1 864.0,107.4 858.0,108.8 852.0,110.2 846.0,111.5 840.0,112.9 834.0,114.2 828.0,115.6 822.0,116.9 816.0,118.2 810.0,119.6 804.0,120.9 798.0,122.2 792.0,123.5 786.0,124.7 780.0,126.0 774.0,127.3 768.0,128.6 762.0,129.8 756.0,131.1 750.0,132.3 744.0,133.5 738.0,134.8 732.0,136.0 726.0,137.2 720.0,138.4 714.0,139.6 708.0,140.8 702.0,142.0 696.0,143.2 690.0,144.3 684.0,145.5 678.0,146.6 672.0,147.8 666.0,148.9 660.0,150.1 654.0,151.2 648.0,152.3 642.0,153.5 636.0,154.6 630.0,155.7 624.0,156.8 618.0,157.9 612.0,159.0 606.0,160.1 600.0,161.1 594.0,162.2 588.0,163.3 582.0,164.3 576.0,165.4 570.0,166.4 564.0,167.5 558.0,168.5 552.0,169.5 546.0,170.6 540.0,171.6 534.0,172.6 528.0,173.6 522.0,174.6 516.0,175.6 510.0,176.6 504.0,177.6 498.0,178.6 492.0,179.6 486.0,180.5 480.0,181.5 474.0,182.5 468.0,183.4 462.0,184.4 456.0,185.3 450.0,186.3 444.0,187.2 438.0,188.1 432.0,189.1 426.0,190.0 420.0,190.9 414.0,191.8 408.0,192.7 402.0,193.7 396.0,194.6 390.0,195.5 384.0,196.4 378.0,197.2 372.0,198.1 366.0,199.0 360.0,199.9 354.0,200.8 348.0,201.6 342.0,202.5 336.0,203.4 330.0,204.2 324.0,205.1 318.0,205.9 312.0,206.8 306.0,207.6 300.0,208.5 294.0,209.3 288.0,210.2 282.0,211.0 276.0,211.8 270.0,212.6 264.0,213.5 258.0,214.3 252.0,215.1 246.0,215.9 240.0,216.7 234.0,217.5 228.0,218.3 222.0,219.1 216.0,219.9 210.0,220.7 204.0,221.5 198.0,222.3 192.0,223.1 186.0,223.9 180.0,224.7 174.0,225.5 168.0,226.2 162.0,227.0 156.0,227.8 150.0,228.6 144.0,229.3 138.0,230.1 132.0,230.9 126.0,231.6 120.0,232.4 114.0,233.2 108.0,233.9 102.0,234.7 96.0,235.4 90.0,236.2 84.0,236.9 78.0,237.7 72.0,238.4 66.0,239.2 60.0,239.9 54.0,240.7 48.0,241.4 42.0,242.1 36.0,242.9 33.0,243.2 20.0,243.6 10.0,243.9 5.0,243.6 2.5,242.8 1.0,241.2 3.0,235.0 5.7,229.0 10.6,220.8 16.3,212.7 22.0,204.5 29.4,196.3 36.8,188.2 43.3,180.0 48.8,174.0 58.6,164.2 68.4,154.4 79.2,144.6 89.0,134.8 98.8,125.0 113.0,111.5" fill="none" stroke="#383838" stroke-width="0.9" stroke-opacity="0.85" stroke-linejoin="round"/>
<rect x="155.40" y="251.3" width="20.71" height="29.7" fill="#c8d6dc"/><rect x="175.51" y="251.3" width="40.82" height="29.7" fill="#b050f0"/><rect x="215.73" y="251.3" width="40.82" height="29.7" fill="#000070"/><rect x="255.95" y="251.3" width="40.82" height="29.7" fill="#0000ff"/><rect x="296.17" y="251.3" width="40.82" height="29.7" fill="#2030ff"/><rect x="336.39" y="251.3" width="40.82" height="29.7" fill="#2ca07c"/><rect x="376.61" y="251.3" width="40.82" height="29.7" fill="#50ffb0"/><rect x="416.83" y="251.3" width="40.82" height="29.7" fill="#1a7000"/><rect x="457.05" y="251.3" width="40.82" height="29.7" fill="#30e010"/><rect x="497.27" y="251.3" width="40.82" height="29.7" fill="#4cff10"/><rect x="537.49" y="251.3" width="40.82" height="29.7" fill="#6a8a08"/><rect x="577.71" y="251.3" width="40.82" height="29.7" fill="#b0dc08"/><rect x="617.93" y="251.3" width="40.82" height="29.7" fill="#3a1c06"/><rect x="658.15" y="251.3" width="40.82" height="29.7" fill="#783008"/><rect x="698.37" y="251.3" width="40.82" height="29.7" fill="#b04a08"/><rect x="738.59" y="251.3" width="40.82" height="29.7" fill="#6a0004"/><rect x="778.81" y="251.3" width="40.82" height="29.7" fill="#b80004"/><rect x="819.03" y="251.3" width="19.97" height="29.7" fill="#ff0000"/><rect x="155.4" y="251.3" width="683.6" height="29.7" fill="none" stroke="#555" stroke-width="0.8"/>
<text x="175.5" y="305" text-anchor="middle" font-size="20">5</text><text x="255.9" y="305" text-anchor="middle" font-size="20">20</text><text x="336.4" y="305" text-anchor="middle" font-size="20">100</text><text x="416.8" y="305" text-anchor="middle" font-size="20">500</text><text x="497.3" y="305" text-anchor="middle" font-size="20">2000</text><text x="577.7" y="305" text-anchor="middle" font-size="20">10000</text><text x="658.1" y="305" text-anchor="middle" font-size="20">50000</text><text x="738.6" y="305" text-anchor="middle" font-size="20">200000</text><text x="819.0" y="305" text-anchor="middle" font-size="20">1E+06</text>
<g stroke="#111" stroke-width="1.4" fill="none">
<line x1="850.9" y1="10.5" x2="850.2" y2="38.6"/>
<line x1="850.2" y1="38.6" x2="881.5" y2="45.2"/>
<line x1="859" y1="26.8" x2="864" y2="20.8"/>
</g>
<polygon points="851.4,29.5 854.6,25.8 863.1,27.3 860.8,30.6" fill="#c4d0d0" stroke="#555" stroke-width="0.5"/>
<polygon points="851.4,29.5 860.8,30.6 860.8,38.8 851.4,38.2" fill="#a8b6b6" stroke="#555" stroke-width="0.5"/>
<polygon points="860.8,30.6 863.1,27.3 863.1,36.2 860.8,38.8" fill="#94a4a4" stroke="#555" stroke-width="0.5"/>
<text x="851.5" y="7" font-size="9" text-anchor="middle" fill="#111">Y</text>
<text x="865" y="23" font-size="9" text-anchor="middle" fill="#111">X</text>
<text x="887" y="50.5" font-size="9" text-anchor="middle" fill="#111">Z</text>

<text x="444.9" y="73.2" font-size="21.6" font-weight="bold" letter-spacing="-0.2">L=25 m</text>
<text transform="translate(28.9,177.9) rotate(-44)" font-size="21" font-weight="bold">C = 10 m</text>
<text transform="translate(916.2,161.9) rotate(-44)" font-size="22" font-weight="bold" letter-spacing="-0.5">C = 2.5 m</text>
<g font-weight="bold">
<text x="22.3" y="284.7" font-size="21.5">1</text><text x="35.3" y="284.7" font-size="21.5">/</text>
<text x="52.8" y="293" font-size="11.8" textLength="18.6" lengthAdjust="spacingAndGlyphs">BL</text>
<text x="63.2" y="275.6" font-size="12.8">2</text>
<text x="77.6" y="284.7" font-size="21.5">(</text>
<text x="85.2" y="284.7" font-size="21.5" textLength="21.3" lengthAdjust="spacingAndGlyphs">m</text>
<rect x="108.9" y="269.6" width="2.7" height="1.6" fill="#000"/>
<text x="112.6" y="275.6" font-size="13.8">2</text>
<text x="123.9" y="284.7" font-size="21.5">)</text>
</g>
<text x="40.2" y="285" font-size="22" font-family="Liberation Serif">δ</text>
</svg>
</body></html>
